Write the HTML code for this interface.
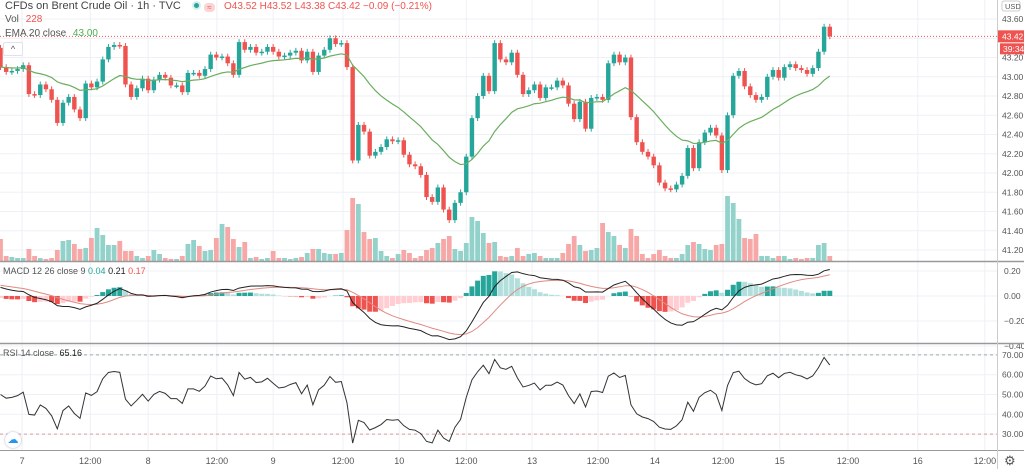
<!DOCTYPE html>
<html><head><meta charset="utf-8">
<style>
html,body{margin:0;padding:0;background:#fff;width:1024px;height:469px;overflow:hidden;font-family:"Liberation Sans",sans-serif}
#wrap{position:relative;width:1024px;height:469px}
svg{position:absolute;left:0;top:0}
.lg{position:absolute;font-size:10px;color:#555;white-space:nowrap}
</style></head><body>
<div id="wrap">
<svg id="c" width="1024" height="469"></svg>
<div class="lg" style="left:5px;top:0px;font-size:11px;color:#444">CFDs on Brent Crude Oil · 1h · TVC
 <span style="display:inline-block;width:9px;height:9px;border-radius:5px;background:#d5f0ec;vertical-align:-1px;margin-left:8px;position:relative"><span style="position:absolute;left:2px;top:2px;width:5px;height:5px;border-radius:3px;background:#26a69a"></span></span>
 <span style="display:inline-block;width:11px;height:9px;border-radius:4px;background:#fbd5d5;color:#ef5350;font-size:8px;line-height:9px;text-align:center;vertical-align:-1px">≈</span>
 <span style="color:#ef5350;font-size:10px;margin-left:6px">O43.52 H43.52 L43.38 C43.42 −0.09 (−0.21%)</span></div>
<div class="lg" style="left:5px;top:14px">Vol <span style="color:#ef5350;margin-left:4px">228</span></div>
<div class="lg" style="left:5px;top:28px">EMA 20 close <span style="color:#4caf50;margin-left:4px">43.00</span></div>
<div class="lg" style="left:3px;top:42px;width:18px;height:12px;border:1px solid #e0e3eb;border-radius:2px;background:#fff;text-align:center;font-size:9px;line-height:13px">^</div>
<div class="lg" style="left:3px;top:266px;font-size:9px">MACD 12 26 close 9 <span style="color:#26a69a">0.04</span> <span style="color:#222">0.21</span> <span style="color:#ef5350">0.17</span></div>
<div class="lg" style="left:3px;top:348px;font-size:9px">RSI 14 close <span style="color:#222;margin-left:3px">65.16</span></div>
<div class="lg" style="left:5px;top:432px;width:16px;height:16px;border-radius:8px;background:#fff;box-shadow:0 0 2px #aac;color:#2196f3;font-size:11px;line-height:16px;text-align:center">☁</div>
<div class="lg" style="left:1004px;top:453px;font-size:13px;color:#555">⚙</div>
</div>
<script>
const closes=[43.10,43.05,43.06,43.08,43.12,42.82,42.81,42.92,42.87,42.76,
42.52,42.73,42.79,42.66,42.57,42.93,42.89,42.95,43.18,43.31,
43.33,43.32,42.92,42.79,42.88,42.98,42.86,42.97,43.02,42.99,
42.91,42.91,42.84,43.04,43.04,43.01,43.08,43.23,43.20,43.21,
43.14,43.02,43.36,43.28,43.31,43.25,43.26,43.31,43.26,43.21,
43.22,43.25,43.27,43.17,43.26,43.05,43.22,43.28,43.40,43.34,
43.35,43.10,42.13,42.50,42.43,42.18,42.22,42.27,42.35,42.33,
42.34,42.19,42.09,42.07,41.98,41.75,41.70,41.85,41.62,41.51,
41.69,41.80,42.17,42.57,42.80,43.01,42.85,43.35,43.18,43.15,
43.25,43.02,42.82,42.86,42.92,42.78,42.89,42.89,42.96,42.91,
42.72,42.56,42.74,42.46,42.78,42.79,42.76,43.14,43.23,43.15,
43.20,42.58,42.32,42.22,42.17,42.08,41.90,41.84,41.83,41.88,
41.97,42.26,42.05,42.32,42.42,42.47,42.39,42.03,42.60,43.01,
43.06,42.90,42.81,42.76,42.79,43.00,43.07,42.99,43.10,43.13,
43.09,43.07,43.03,43.09,43.26,43.52,43.42];
const firstOpen=43.30;
const volumes=[22,5,4,3,3,12,5,3,2,3,11,20,21,17,12,13,23,33,26,16,
16,20,10,10,5,3,5,11,7,3,2,2,5,17,21,15,10,11,23,37,
34,22,14,19,3,4,2,3,10,3,3,2,3,4,8,12,12,8,7,7,
8,31,63,57,29,22,23,10,5,3,7,11,8,3,5,11,13,18,22,25,
12,10,18,44,40,28,18,19,5,4,5,13,5,7,8,5,3,3,3,8,
17,25,16,10,11,13,38,29,25,16,13,32,25,7,3,7,11,5,3,3,
7,16,19,17,12,11,16,17,65,58,42,23,22,27,5,5,3,5,5,2,
3,2,3,3,16,18,5];
const priceTicks=[43.60,43.40,43.20,43.00,42.80,42.60,42.40,42.20,42.00,41.80,41.60,41.40,41.20];
const macdTicks=[0.20,0.00,-0.20,-0.40];
const rsiTicks=[70,60,50,40,30];
const timeLabels=['7','12:00','8','12:00','9','12:00','10','12:00','13','12:00','14','12:00','15','12:00','16','12:00'];
const timeIdx=[3.8,15.8,26,38.1,48,60.3,70.2,82,93.6,105.2,115.2,127.2,137.2,149.2,161.5,173.3];
const lastPrice=43.42;

const S='http://www.w3.org/2000/svg';
const svg=document.getElementById('c');
function mk(t,a,p){const e=document.createElementNS(S,t);for(const k in a)e.setAttribute(k,a[k]);(p||svg).appendChild(e);return e;}
const X=i=>0.5+i*5.68;
const PY=p=>19+(43.6-p)*96.25;
const MY=v=>296+(-v)*125;
const RY=r=>394.5-(r-50)*1.98;
const VY=v=>261-v;
const W=997;
const UP='#26a69a',DN='#ef5350';

timeIdx.forEach((ti,k)=>{
 const g=mk('line',{x1:X(ti),x2:X(ti),y1:0,y2:450,stroke:'#eef0f5','stroke-width':1});
 
 
 const t=mk('text',{x:X(ti),y:464,'font-size':9,fill:'#555','text-anchor':'middle','font-family':'Liberation Sans'});
 t.textContent=timeLabels[k];
 
 
});
priceTicks.forEach(p=>{
 const g=mk('line',{x1:0,x2:W,y1:PY(p),y2:PY(p),stroke:'#eef0f5'});
 
 
 const t=mk('text',{x:1002,y:PY(p)+3,'font-size':8.5,fill:'#555','font-family':'Liberation Sans'});
 t.textContent=p.toFixed(2);
 
 
});
macdTicks.forEach(v=>{
 const g=mk('line',{x1:0,x2:W,y1:MY(v),y2:MY(v),stroke:'#eef0f5'});
 
 
 const t=mk('text',{x:1004,y:MY(v)+3,'font-size':8.5,fill:'#555','font-family':'Liberation Sans'});
 t.textContent=v.toFixed(2).replace('-','−');
 
 
});
rsiTicks.forEach(r=>{
 const g=mk('line',{x1:0,x2:W,y1:RY(r),y2:RY(r),stroke:'#eef0f5'});
 
 
 const t=mk('text',{x:1002,y:RY(r)+3,'font-size':8.5,fill:'#555','font-family':'Liberation Sans'});
 t.textContent=r.toFixed(2);
 
 
});
const d70=mk('line',{x1:0,x2:W,y1:RY(70),y2:RY(70),stroke:'#9aa','stroke-dasharray':'3,3'});


const d30=mk('line',{x1:0,x2:W,y1:RY(30),y2:RY(30),stroke:'#d99','stroke-dasharray':'3,3'});



const opens=closes.map((c,i)=>i===0?firstOpen:closes[i-1]);
volumes.forEach((v,i)=>{
 const up=closes[i]>=opens[i];
 const r=mk('rect',{x:X(i)-2.4,y:VY(v),width:4.8,height:v,fill:up?'#93d2cb':'#f6a7a6'});
 
 
});
const lp=mk('line',{x1:0,x2:W,y1:PY(lastPrice),y2:PY(lastPrice),stroke:'#ef5350','stroke-dasharray':'1,2','stroke-width':1});



closes.forEach((c,i)=>{
 const o=opens[i],up=c>=o,col=up?UP:DN;
 const hi=Math.max(o,c)+0.03,lo=Math.min(o,c)-0.03;
 const w=mk('line',{x1:X(i),x2:X(i),y1:PY(hi),y2:PY(lo),stroke:col,'stroke-width':1});
 
 
 const top=PY(Math.max(o,c)),h=Math.max(1.5,Math.abs(PY(o)-PY(c)));
 const b=mk('rect',{x:X(i)-2.2,y:top,width:4.4,height:h,fill:col});
 
 
});
function ema(arr,n,seed){const k=2/(n+1);let e=seed;return arr.map(v=>(e=v*k+e*(1-k)));}
const e20=ema(closes,20,43.10);
const ep=mk('polyline',{points:e20.map((v,i)=>X(i)+','+PY(v)).join(' '),fill:'none',stroke:'#6aae5e','stroke-width':1.2});



const e12=ema(closes,12,closes[0]+0.06),e26=ema(closes,26,closes[0]-0.02);
const macd=e12.map((v,i)=>v-e26[i]);
const sig=ema(macd,9,macd[0]+0.02);
macd.forEach((m,i)=>{
 const h=m-sig[i],ph=i?macd[i-1]-sig[i-1]:h;
 let col=h>=0?(h>=ph?'#26a69a':'#b2dfdb'):(h<ph?'#ef5350':'#ffcdd2');
 const y0=MY(0),y1=MY(h);
 const r=mk('rect',{x:X(i)-2.5,y:Math.min(y0,y1),width:5,height:Math.abs(y1-y0),fill:col});
 
 
});
const sl=mk('polyline',{points:sig.map((v,i)=>X(i)+','+MY(v)).join(' '),fill:'none',stroke:'#e08a80','stroke-width':1});


const ml=mk('polyline',{points:macd.map((v,i)=>X(i)+','+MY(v)).join(' '),fill:'none',stroke:'#222','stroke-width':1});



let ag=0.05,al=0.05;const rsi=[50];
for(let i=1;i<closes.length;i++){const d=closes[i]-closes[i-1];ag=(ag*13+Math.max(d,0))/14;al=(al*13+Math.max(-d,0))/14;rsi.push(100-100/(1+ag/al));}
const rl=mk('polyline',{points:rsi.map((v,i)=>X(i)+','+RY(v)).join(' '),fill:'none',stroke:'#333','stroke-width':1});



[[0,261.5,1024,261.5],[0,343.5,1024,343.5],[0,450.5,1024,450.5],[997.5,0,997.5,469]].forEach(a=>{
 const l=mk('line',{x1:a[0],y1:a[1],x2:a[2],y2:a[3],stroke:a[3]===469?'#ccc':'#999','stroke-width':a[1]===450.5||a[3]===469?1:1.5});
 
 
});
const pl=mk('rect',{x:998,y:PY(lastPrice)-6,width:26,height:12,fill:'#ef5350'});


const pt=mk('text',{x:1002,y:PY(lastPrice)+3,'font-size':8.5,fill:'#fff','font-family':'Liberation Sans'});
pt.textContent=lastPrice.toFixed(2);


const cd=mk('rect',{x:1000,y:PY(lastPrice)+7,width:24,height:11,fill:'#ef5350'});


const ct=mk('text',{x:1003,y:PY(lastPrice)+15.5,'font-size':8.5,fill:'#fff','font-family':'Liberation Sans'});
ct.textContent='39:34';


const ub=mk('rect',{x:1002,y:1,width:18,height:10,fill:'#fff',stroke:'#ccc',rx:2});


const ut=mk('text',{x:1005,y:9,'font-size':7.5,fill:'#555','font-family':'Liberation Sans'});
ut.textContent='USD';


</script>
</body></html>
